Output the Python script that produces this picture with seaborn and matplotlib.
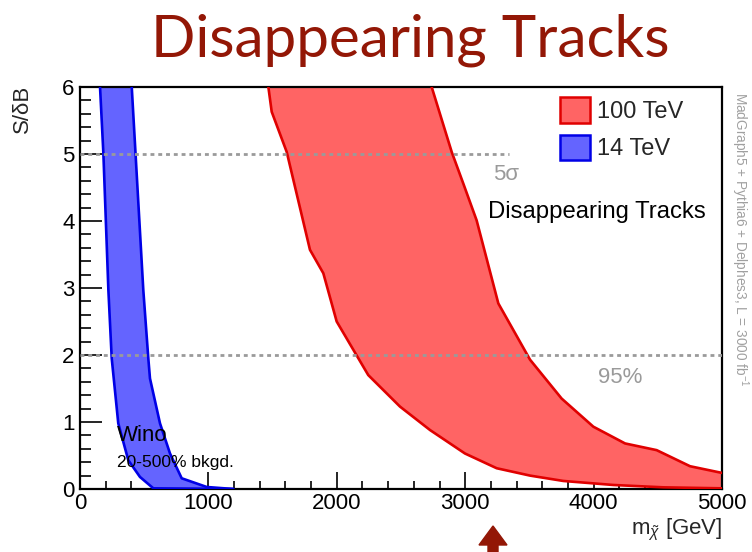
import numpy as np
import matplotlib
matplotlib.use("Agg")
import matplotlib.pyplot as plt
from matplotlib.patches import Patch, FancyArrow
from matplotlib.ticker import MultipleLocator
import seaborn as sns
import pandas as pd

# ---- data ----
red_lo_x = [1467, 1493, 1610, 1791, 1895, 1999, 2168, 2245, 2492, 2726, 2998, 3245, 3505, 3764, 4154, 4543, 5000]
red_lo_y = [6.0, 5.63, 5.03, 3.57, 3.22, 2.50, 1.95, 1.70, 1.23, 0.88, 0.53, 0.31, 0.20, 0.12, 0.06, 0.025, 0.01]
red_hi_x = [2739, 2895, 2985, 3089, 3258, 3505, 3751, 3998, 4245, 4491, 4751, 5000]
red_hi_y = [6.0, 5.03, 4.56, 4.01, 2.77, 1.93, 1.35, 0.93, 0.68, 0.58, 0.34, 0.24]

blue_lo_x = [156, 182, 221, 247, 298, 376, 467, 571, 1194]
blue_lo_y = [6.0, 5.01, 2.97, 1.95, 0.98, 0.43, 0.18, 0.01, 0.0]
blue_hi_x = [403, 493, 532, 545, 623, 701, 792, 987, 1194]
blue_hi_y = [6.0, 2.97, 1.95, 1.65, 0.98, 0.53, 0.16, 0.03, 0.0]

legend_labels = ["100 TeV", "14 TeV"]
sigma5_level = 5
cl95_level = 2
x_ticks = [0, 1000, 2000, 3000, 4000, 5000]
y_ticks = [0, 1, 2, 3, 4, 5, 6]

# ---- style ----
sns.set_theme(style="white")
plt.rcParams["font.family"] = ["Liberation Sans", "DejaVu Sans"]
plt.rcParams["mathtext.fontset"] = "custom"
plt.rcParams["mathtext.rm"] = "Liberation Sans"
plt.rcParams["mathtext.it"] = "Liberation Sans:italic"

RED_FILL = "#ff6464"
RED_EDGE = "#e00000"
BLUE_FILL = "#6464ff"
BLUE_EDGE = "#0000e6"
GREY = "#9a9a9a"
TITLE_RED = "#931706"

fig = plt.figure(figsize=(7.52, 5.52), dpi=100)
ax = fig.add_axes([80 / 752, 1 - 489 / 552, 642 / 752, 402 / 552])

def band(lo_x, lo_y, hi_x, hi_y, fill, edge):
    px = list(lo_x) + list(hi_x[::-1])
    py = list(lo_y) + list(hi_y[::-1])
    ax.fill(px, py, color=fill, lw=0, zorder=2)
    for xs, ys in ((lo_x, lo_y), (hi_x, hi_y)):
        df = pd.DataFrame({"x": xs, "y": ys})
        sns.lineplot(data=df, x="x", y="y", sort=False, estimator=None,
                     color=edge, lw=1.9, ax=ax, zorder=3)

band(red_lo_x, red_lo_y, red_hi_x, red_hi_y, RED_FILL, RED_EDGE)
band(blue_lo_x, blue_lo_y, blue_hi_x, blue_hi_y, BLUE_FILL, BLUE_EDGE)

# reference lines
ax.plot([0, 3340], [sigma5_level, sigma5_level], color=GREY, lw=2.0,
        dashes=(1.4, 1.4), zorder=4)
ax.plot([0, 5000], [cl95_level, cl95_level], color=GREY, lw=2.0,
        dashes=(1.4, 1.4), zorder=4)

ax.set_xlim(0, 5000)
ax.set_ylim(0, 6)
ax.set_xticks(x_ticks)
ax.set_yticks(y_ticks)
ax.xaxis.set_minor_locator(MultipleLocator(200))
ax.yaxis.set_minor_locator(MultipleLocator(0.2))
ax.tick_params(axis="both", which="both", direction="in", top=False, right=False,
               bottom=True, left=True, labelsize=16, colors="black", width=1.2)
ax.tick_params(axis="x", which="major", length=12, pad=3)
ax.tick_params(axis="x", which="minor", length=6)
ax.tick_params(axis="y", which="major", length=16, pad=4)
ax.tick_params(axis="y", which="minor", length=8)
for s in ax.spines.values():
    s.set_color("black")
    s.set_linewidth(1.6)
ax.set_xlabel("")
ax.set_ylabel("")

# annotations
ax.text(3215, 4.69, "5σ", color=GREY, fontsize=16, va="center", ha="left")
ax.text(4206, 1.67, "95%", color=GREY, fontsize=16, va="center", ha="center")
ax.text(3178, 4.13, "Disappearing Tracks", color="black", fontsize=17.2,
        va="center", ha="left")
ax.text(285, 0.80, "Wino", color="black", fontsize=16, va="center", ha="left")
ax.text(285, 0.40, "20-500% bkgd.", color="black", fontsize=12.5, va="center", ha="left")

handles = [Patch(facecolor=RED_FILL, edgecolor=RED_EDGE, lw=1.8),
           Patch(facecolor=BLUE_FILL, edgecolor=BLUE_EDGE, lw=1.8)]
ax.legend(handles, legend_labels, loc="upper left", bbox_to_anchor=(0.748, 0.975),
          frameon=False, fontsize=17, handlelength=1.25, handleheight=1.3,
          handletextpad=0.3, labelspacing=0.5, borderpad=0, borderaxespad=0)

# axis labels
fig.text(722 / 752, 1 - 530 / 552, r"m$_{\tilde{\chi}}$ [GeV]", fontsize=16,
         ha="right", va="center")
fig.text(22 / 752, 1 - 85 / 552, "S/δB", fontsize=16, rotation=90,
         ha="center", va="top")

# side note
fig.text(740 / 752, 1 - 92 / 552, r"MadGraph5 + Pythia6 + Delphes3, L = 3000 fb$^{-1}$",
         fontsize=9.8, color="#a0a0a0", rotation=-90, ha="center", va="top")

# title
fig.text(410 / 752, 1 - 40 / 552, "Disappearing Tracks", fontsize=42,
         family=["Lato", "DejaVu Sans"], fontweight="normal", color=TITLE_RED,
         ha="center", va="center")

# arrow from slide
fig.patches.append(FancyArrow(493 / 752, 0.0, 0, 26 / 552, width=10 / 752,
                              head_width=28 / 752, head_length=19 / 552,
                              length_includes_head=True, color=TITLE_RED,
                              transform=fig.transFigure, figure=fig))

fig.savefig("out.png", dpi=100)
